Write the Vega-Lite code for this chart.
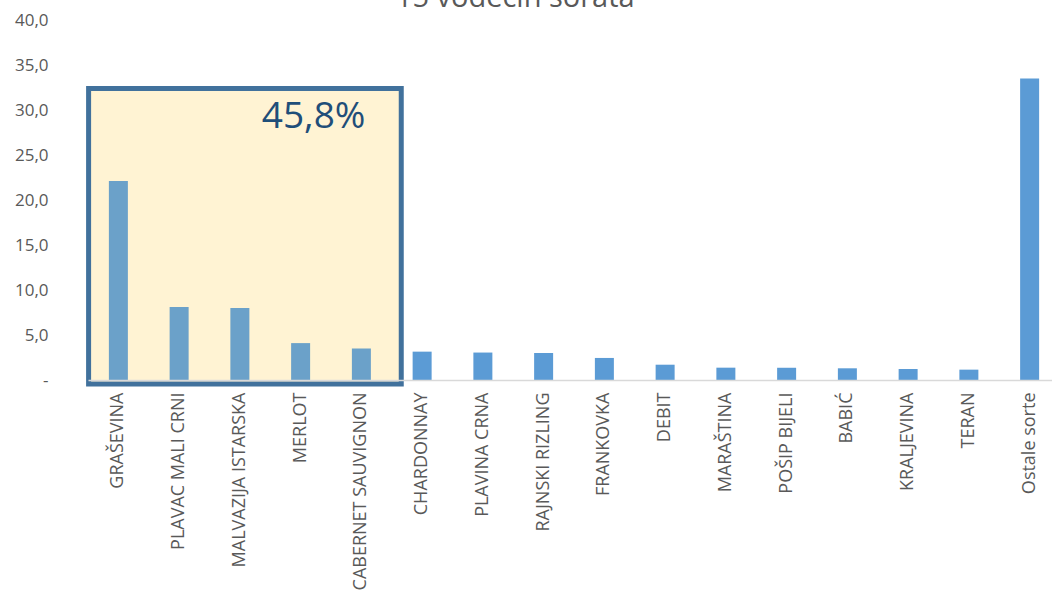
{
  "$schema": "https://vega.github.io/schema/vega-lite/v6.json",
  "autosize": "none",
  "width": 964,
  "height": 360,
  "padding": {"left": 88, "top": 20, "right": 0, "bottom": 221},
  "background": "white",
  "config": {"view": {"stroke": null}, "font": "Open Sans"},
  "data": {
    "values": [
      {"sorta": "GRAŠEVINA", "udio": 22.1},
      {"sorta": "PLAVAC MALI CRNI", "udio": 8.1},
      {"sorta": "MALVAZIJA ISTARSKA", "udio": 8.0},
      {"sorta": "MERLOT", "udio": 4.1},
      {"sorta": "CABERNET SAUVIGNON", "udio": 3.5},
      {"sorta": "CHARDONNAY", "udio": 3.15},
      {"sorta": "PLAVINA CRNA", "udio": 3.05},
      {"sorta": "RAJNSKI RIZLING", "udio": 3.0},
      {"sorta": "FRANKOVKA", "udio": 2.45},
      {"sorta": "DEBIT", "udio": 1.7},
      {"sorta": "MARAŠTINA", "udio": 1.37},
      {"sorta": "POŠIP BIJELI", "udio": 1.36},
      {"sorta": "BABIĆ", "udio": 1.3},
      {"sorta": "KRALJEVINA", "udio": 1.22},
      {"sorta": "TERAN", "udio": 1.15},
      {"sorta": "Ostale sorte", "udio": 33.5}
    ]
  },
  "layer": [
    {
      "data": {"values": [{"skupina": "vodeće"}]},
      "mark": {
        "type": "rect",
        "fill": "#FFE699",
        "fillOpacity": 0.3,
        "xOffset": 0.6,
        "x2Offset": 9.5
      },
      "encoding": {
        "x": {"datum": "GRAŠEVINA", "bandPosition": 0},
        "x2": {"datum": "CABERNET SAUVIGNON", "bandPosition": 1},
        "y": {"datum": 32.4},
        "y2": {"datum": -0.45}
      }
    },
    {
      "mark": {"type": "bar", "color": "#5B9BD5", "width": 19},
      "encoding": {
        "x": {
          "field": "sorta",
          "type": "nominal",
          "sort": null,
          "scale": {
            "domain": ["GRAŠEVINA", "PLAVAC MALI CRNI", "MALVAZIJA ISTARSKA", "MERLOT", "CABERNET SAUVIGNON", "CHARDONNAY", "PLAVINA CRNA", "RAJNSKI RIZLING", "FRANKOVKA", "DEBIT", "MARAŠTINA", "POŠIP BIJELI", "BABIĆ", "KRALJEVINA", "TERAN", "Ostale sorte"],
            "range": [0, 972],
            "paddingInner": 0,
            "paddingOuter": 0
          },
          "axis": {
            "title": null,
            "labelAngle": 270,
            "labelAlign": "right",
            "labelBaseline": "middle",
            "labelFontSize": 18,
            "labelColor": "#595959",
            "labelPadding": 12,
            "ticks": false,
            "domainColor": "#D9D9D9",
            "domainWidth": 1.5,
            "labelLimit": 300
          }
        },
        "y": {
          "field": "udio",
          "type": "quantitative",
          "scale": {"domain": [0, 40], "nice": false},
          "axis": {
            "title": null,
            "values": [0, 5, 10, 15, 20, 25, 30, 35, 40],
            "labelExpr": "datum.value == 0 ? '-' : replace(format(datum.value, '.1f'), '.', ',')",
            "labelFontSize": 17,
            "labelColor": "#595959",
            "labelPadding": 40,
            "ticks": false,
            "domain": false,
            "gridColor": "#D9D9D9",
            "gridWidth": 1.3
          }
        }
      }
    },
    {
      "data": {"values": [{"skupina": "vodeće"}]},
      "mark": {
        "type": "rect",
        "fill": "#FFD966",
        "fillOpacity": 0.1,
        "stroke": "#41719C",
        "strokeWidth": 5,
        "xOffset": 0.6,
        "x2Offset": 9.5
      },
      "encoding": {
        "x": {"datum": "GRAŠEVINA", "bandPosition": 0},
        "x2": {"datum": "CABERNET SAUVIGNON", "bandPosition": 1},
        "y": {"datum": 32.4},
        "y2": {"datum": -0.45}
      }
    },
    {
      "data": {"values": [{"udio5": "45,8%"}]},
      "mark": {
        "type": "text",
        "fontSize": 37,
        "color": "#1F4E79",
        "font": "Open Sans",
        "align": "center",
        "baseline": "alphabetic",
        "dx": 13
      },
      "encoding": {
        "x": {"datum": "MERLOT"},
        "y": {"datum": 28},
        "text": {"field": "udio5"}
      }
    },
    {
      "data": {"values": [{"naslov": "15 vodećih sorata"}]},
      "mark": {
        "type": "text",
        "fontSize": 29,
        "color": "#595959",
        "font": "Open Sans",
        "align": "center",
        "baseline": "alphabetic",
        "dx": 2
      },
      "encoding": {
        "x": {"datum": "RAJNSKI RIZLING", "bandPosition": 0},
        "y": {"datum": 41.45},
        "text": {"field": "naslov"}
      }
    }
  ]
}
